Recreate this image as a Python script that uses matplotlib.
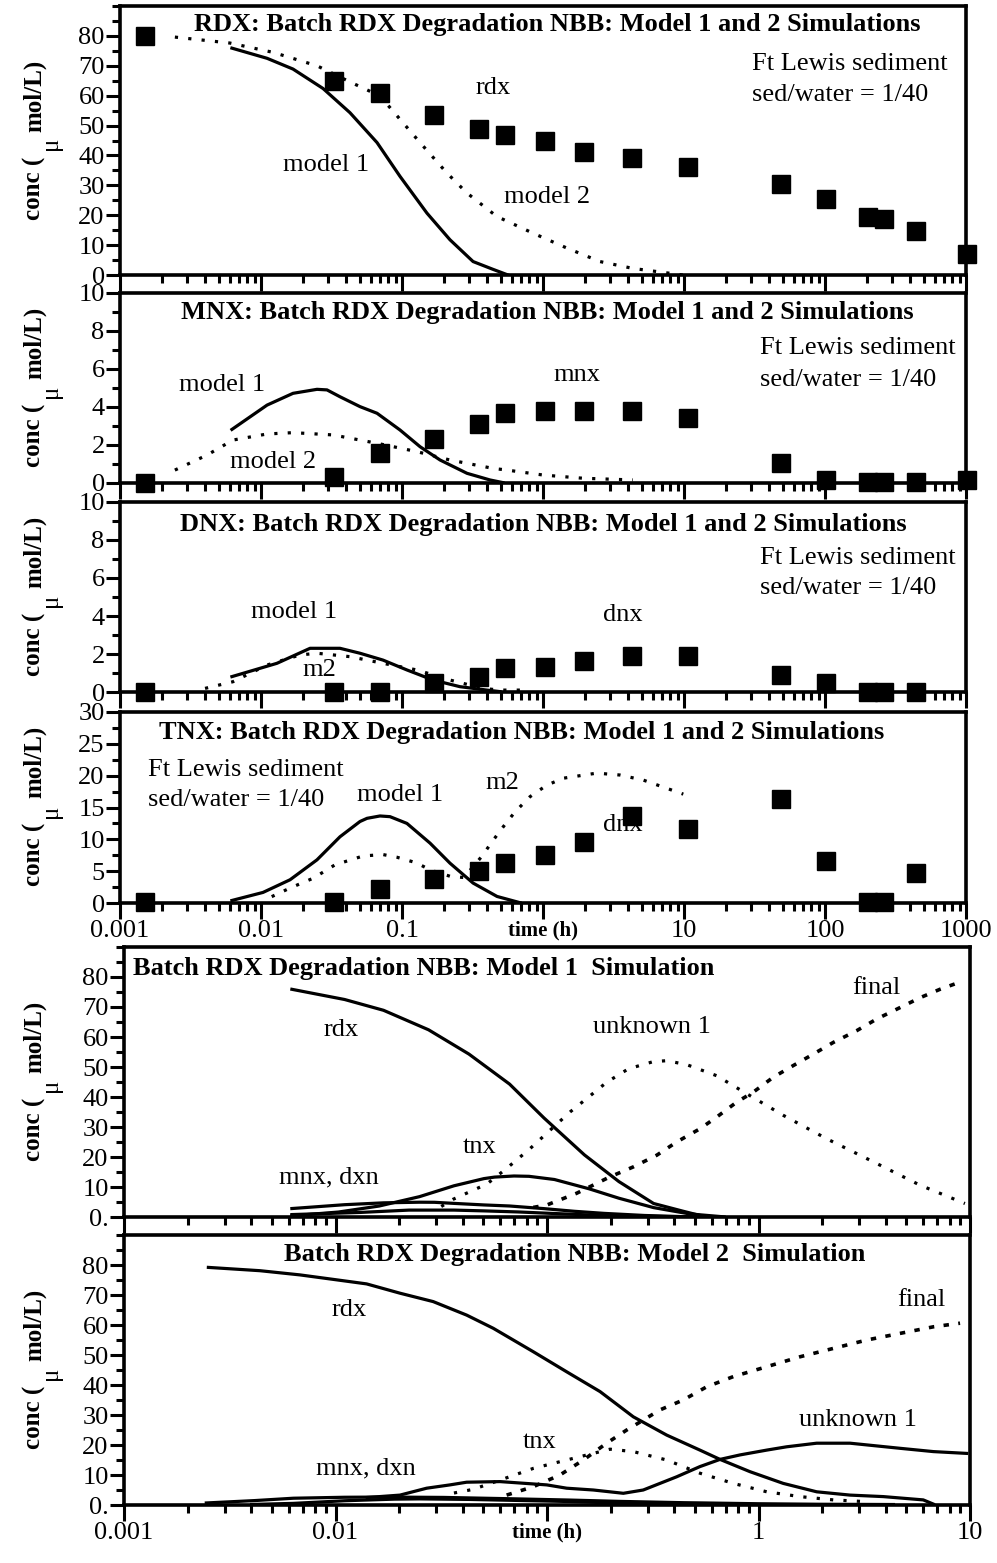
import numpy as np
import matplotlib
matplotlib.use('Agg')
import matplotlib.pyplot as plt
from matplotlib.ticker import MultipleLocator, FixedLocator, LogLocator, NullFormatter

plt.rcParams['font.family'] = ['Liberation Serif', 'DejaVu Serif']

# measured data (time in h, conc in umol/L)
t_obs = [0.0015, 0.033, 0.07, 0.17, 0.35, 0.54, 1.03, 1.95, 4.3, 10.7, 49, 101, 202, 262, 442, 1016]
rdx_obs = [80, 64.9, 60.8, 53.4, 49, 47, 44.7, 41, 39.3, 36.3, 30.3, 25.5, 19.5, 18.8, 14.8, 7]
mnx_obs = [0, 0.3, 1.6, 2.3, 3.1, 3.7, 3.8, 3.8, 3.8, 3.4, 1.05, 0.16, 0.05, 0.05, 0.05, 0.15]
dnx_obs = [0, 0, 0, 0.46, 0.8, 1.26, 1.33, 1.63, 1.9, 1.9, 0.9, 0.45, 0, 0, 0]
tnx_obs = [0.15, 0.15, 2.2, 3.76, 5.06, 6.26, 7.56, 9.65, 13.67, 11.6, 16.3, 6.67, 0.1, 0.1, 4.7]

# model 1 simulation
m1_rdx_t = [0.00622, 0.01104, 0.01687, 0.02754, 0.04276, 0.06653, 0.0968, 0.1503, 0.2188, 0.3192, 0.4416, 0.565]
m1_rdx = [75.9, 72.5, 68.9, 62.4, 54.3, 44.3, 33.0, 20.7, 11.8, 4.5, 1.9, 0]
m1_mnx_t = [0.00622, 0.01104, 0.01687, 0.02495, 0.02938, 0.03631, 0.05035, 0.06653, 0.0968, 0.1343, 0.1862, 0.2891, 0.4207, 0.52]
m1_mnx = [2.82, 4.1, 4.72, 4.93, 4.9, 4.54, 4.02, 3.67, 2.79, 1.91, 1.21, 0.51, 0.16, 0.02]
m1_dnx_t = [0.00622, 0.01297, 0.02228, 0.03631, 0.05035, 0.07328, 0.1084, 0.166, 0.2576, 0.4009, 0.4955]
m1_dnx = [0.81, 1.51, 2.3, 2.3, 2.04, 1.68, 1.16, 0.63, 0.28, 0.1, 0.02]
m1_tnx_t = [0.00622, 0.01033, 0.01607, 0.02495, 0.03631, 0.05035, 0.05649, 0.06982, 0.08222, 0.1084, 0.1581, 0.2188, 0.3192, 0.4721, 0.6871]
m1_tnx = [0.4, 1.66, 3.65, 6.78, 10.4, 12.8, 13.3, 13.67, 13.56, 12.5, 9.4, 6.26, 3.13, 1.03, 0.05]
m1_unk_t = [0.03162, 0.03597, 0.052, 0.06442, 0.08318, 0.1033, 0.1285, 0.1567, 0.1914, 0.2427, 0.3184, 0.3681,
            0.4571, 0.6339, 0.879, 1.309, 2.099, 3.491, 5.808, 9.462]
m1_unk = [3.5, 5.9, 11.0, 16.2, 22.8, 28.9, 35.0, 39.9, 44.9, 49.4, 51.8, 52.1, 50.8, 47.1, 41.1, 33.9, 26.1, 18.4, 10.6, 4.5]
m1_fin_t = [0.0861, 0.0998, 0.138, 0.1986, 0.2559, 0.3304, 0.4102, 0.5284, 0.6339, 0.7889, 0.9441, 1.175, 1.462,
            1.816, 2.259, 2.911, 3.622, 4.667, 5.808, 7.211, 9.29]
m1_fin = [3.2, 4.0, 7.9, 13.4, 16.7, 20.6, 25.0, 29.4, 33.3, 38.3, 41.6, 46.6, 50.5, 54.3, 58.2, 62.1, 66.0, 69.8, 73.1, 75.9, 78.7]

# model 2 simulation
m2_rdx_top_t = [0.00245, 0.00603, 0.01216, 0.02495, 0.04276, 0.06982, 0.0968, 0.1343, 0.2075, 0.2877, 0.4699, 0.849, 1.479, 2.535, 4.345, 9.84]
m2_rdx_top = [79.6, 77.6, 74.5, 70.0, 64.6, 59.9, 52.1, 44.3, 34.2, 27.5, 19.6, 14.0, 9.0, 4.5, 2.2, 0]
m2_mnx_t = [0.00245, 0.00414, 0.00632, 0.01104, 0.01687, 0.03243, 0.06653, 0.1276, 0.2188, 0.4416, 0.5559, 1.0, 1.923, 4.345]
m2_mnx = [0.68, 1.47, 2.26, 2.58, 2.65, 2.53, 2.09, 1.65, 1.21, 0.77, 0.68, 0.42, 0.25, 0.16]
m2_dnx_t = [0.00401, 0.00632, 0.01104, 0.01892, 0.02495, 0.04276, 0.07328, 0.1276, 0.2188, 0.375, 0.4955, 0.809]
m2_dnx = [0.19, 0.54, 1.42, 1.95, 2.04, 1.86, 1.51, 1.16, 0.63, 0.19, 0.1, 0.1]
m2_tnx_top_t = [0.01191, 0.01607, 0.0235, 0.0335, 0.05321, 0.07362, 0.09162, 0.127, 0.1581, 0.2188, 0.275, 0.3673,
                0.4446, 0.5236, 0.6324, 0.8091, 1.062, 1.393, 2.404, 3.516, 5.152, 9.886]
m2_tnx_top = [1.0, 2.35, 3.9, 6.0, 7.4, 7.6, 7.2, 6.3, 5.2, 4.2, 4.0, 7.3, 9.9, 12.0, 14.3, 16.7, 18.5, 19.6, 20.4, 20.1, 19.3, 17.1]
m2_rdx_t = [0.002506, 0.004395, 0.006792, 0.009772, 0.01403, 0.02018, 0.02897, 0.04169, 0.05572, 0.0861, 0.1239,
            0.1782, 0.2559, 0.3681, 0.5284, 0.6577, 0.912, 1.309, 1.884, 2.71, 3.89, 6.012, 6.714]
m2_rdx = [79.2, 78.1, 76.7, 75.2, 73.7, 70.6, 67.8, 63.3, 58.9, 51.1, 44.4, 37.8, 29.4, 23.3, 18.3, 15.2, 11.1, 7.2,
          4.4, 3.3, 2.8, 1.7, 0.3]
m2_tnx_t = [0.03631, 0.04467, 0.05998, 0.0861, 0.1239, 0.1986, 0.2559, 0.3681, 0.5284, 0.7603, 1.094, 1.57, 2.259, 3.251]
m2_tnx = [4.0, 5.2, 8.3, 12.2, 15.0, 18.6, 17.8, 15.0, 10.6, 7.2, 4.4, 2.8, 1.7, 1.1]
m2_unk_t = [0.01413, 0.02018, 0.02698, 0.03475, 0.04169, 0.05998, 0.0998, 0.1239, 0.1656, 0.2296, 0.2851, 0.342,
            0.4102, 0.5284, 0.6577, 0.8185, 1.094, 1.358, 1.884, 2.71, 4.667, 6.714, 9.638]
m2_unk = [2.5, 3.3, 5.6, 6.7, 7.6, 7.8, 6.7, 5.6, 5.0, 3.9, 5.0, 7.2, 9.4, 12.8, 15.2, 16.7, 18.3, 19.4, 20.6, 20.6, 18.9, 17.8, 17.2]
m2_fin_t = [0.06442, 0.0861, 0.1151, 0.1486, 0.1914, 0.2382, 0.2851, 0.342, 0.4406, 0.5689, 0.7603, 1.094, 1.57,
            2.259, 3.251, 4.667, 6.714, 8.974]
m2_fin = [3.3, 6.1, 10.0, 15.0, 20.6, 25.0, 28.3, 31.7, 35.0, 39.4, 42.8, 46.1, 49.4, 52.2, 55.0, 57.2, 59.4, 60.6]

top_ticks = [0.001, 0.01, 0.1, 1, 10, 100, 1000]
top_labels = ['0.001', '0.01', '0.1', 'time (h)', '10', '100', '1000']
bot_ticks = [0.001, 0.01, 0.1, 1, 10]
bot_labels = ['0.001', '0.01', 'time (h)', '1', '10']

W, H = 997, 1563
fig = plt.figure(figsize=(W / 100, H / 100), dpi=100)

SOLID = dict(color='black', lw=2.3, solid_joinstyle='round')
DOT = dict(color='black', lw=2.3, ls=(0, (1, 3.2)))
FIN = dict(color='black', lw=2.6, ls=(0, (1.5, 2.6)))
SQ = dict(ls='none', marker='s', ms=13, color='black', clip_on=False, zorder=5)


def panel(l, t, r, b, xlim, ylim, ymajor, yminor):
    ax = fig.add_axes([l / W, 1 - b / H, (r - l) / W, (b - t) / H])
    ax.set_xscale('log')
    ax.set_xlim(*xlim)
    ax.set_ylim(*ylim)
    for s in ax.spines.values():
        s.set_linewidth(2.6)
    ax.yaxis.set_major_locator(FixedLocator(ymajor))
    ax.yaxis.set_minor_locator(MultipleLocator(yminor))
    ax.xaxis.set_minor_locator(LogLocator(10, subs=np.arange(2, 10), numticks=30))
    ax.xaxis.set_minor_formatter(NullFormatter())
    ax.tick_params(which='both', direction='out', width=2.2, top=False, right=False)
    ax.tick_params(axis='y', which='major', length=10, pad=1, labelsize=19)
    ax.tick_params(axis='y', which='minor', length=6)
    ax.tick_params(axis='x', which='major', length=11.5, pad=1, labelsize=19)
    ax.tick_params(axis='x', which='minor', length=6)
    return ax


def txt(x, y, s, size=19, bold=False, ha='center'):
    fig.text(x / W, 1 - y / H, s, fontsize=size, ha=ha, va='center',
             fontweight='bold' if bold else 'normal', zorder=10)


def xlabels(ax, ticks, labels):
    ax.set_xticks(ticks)
    lbls = ax.set_xticklabels(labels)
    for lb in lbls:
        if lb.get_text() == 'time (h)':
            lb.set_fontweight('bold')
            lb.set_fontsize(15)


def ylabel(yc):
    # "conc (" bold, lowered "μ", "mol/L)" bold, read bottom to top
    kw = dict(rotation=90, rotation_mode='anchor', ha='left', va='baseline', fontsize=18)
    fig.text(41 / W, 1 - (yc + 79) / H, 'conc (', fontweight='bold', **kw)
    fig.text(57 / W, 1 - (yc + 10) / H, 'μ', **kw)
    fig.text(41 / W, 1 - (yc - 9) / H, 'mol/L)', fontweight='bold', **kw)


# ---- top four panels
axes_top = []
boxes = [(6, 275, (0, 90), list(range(0, 81, 10)), 5),
         (293, 483, (0, 10), list(range(0, 11, 2)), 1),
         (502, 692, (0, 10), list(range(0, 11, 2)), 1),
         (712, 903, (0, 30), list(range(0, 31, 5)), 2.5)]
for top, bot, yl, ymaj, ymin in boxes:
    ax = panel(120, top, 966, bot, (0.001, 1000), yl, ymaj, ymin)
    xlabels(ax, top_ticks, top_labels)
    if bot != 903:
        ax.tick_params(axis='x', labelbottom=False)
    ylabel((top + bot) / 2)
    axes_top.append(ax)

a1, a2, a3, a4 = axes_top
a1.plot(m1_rdx_t, m1_rdx, **SOLID)
a1.plot(m2_rdx_top_t, m2_rdx_top, **DOT)
a1.plot(t_obs, rdx_obs, **SQ)
a2.plot(m1_mnx_t, m1_mnx, **SOLID)
a2.plot(m2_mnx_t, m2_mnx, **DOT)
a2.plot(t_obs, mnx_obs, **SQ)
a3.plot(m1_dnx_t, m1_dnx, **SOLID)
a3.plot(m2_dnx_t, m2_dnx, **DOT)
a3.plot(t_obs[:15], dnx_obs, **SQ)
a4.plot(m1_tnx_t, m1_tnx, **SOLID)
a4.plot(m2_tnx_top_t, m2_tnx_top, **DOT)
a4.plot(t_obs[:15], tnx_obs, **SQ)

txt(557, 25, 'RDX: Batch RDX Degradation NBB: Model 1 and 2 Simulations', bold=True)
txt(493, 88, 'rdx')
txt(326, 165, 'model 1')
txt(547, 197, 'model 2')
txt(752, 64, 'Ft Lewis sediment', ha='left')
txt(752, 95, 'sed/water = 1/40', ha='left')

txt(547, 313, 'MNX: Batch RDX Degradation NBB: Model 1 and 2 Simulations', bold=True)
txt(222, 385, 'model 1')
txt(273, 462, 'model 2')
txt(577, 375, 'mnx')
txt(760, 348, 'Ft Lewis sediment', ha='left')
txt(760, 380, 'sed/water = 1/40', ha='left')

txt(543, 525, 'DNX: Batch RDX Degradation NBB: Model 1 and 2 Simulations', bold=True)
txt(294, 612, 'model 1')
txt(319, 670, 'm2')
txt(623, 615, 'dnx')
txt(760, 558, 'Ft Lewis sediment', ha='left')
txt(760, 588, 'sed/water = 1/40', ha='left')

txt(522, 732, 'TNX: Batch RDX Degradation NBB: Model 1 and 2 Simulations', bold=True)
txt(148, 770, 'Ft Lewis sediment', ha='left')
txt(148, 800, 'sed/water = 1/40', ha='left')
txt(400, 795, 'model 1')
txt(502, 783, 'm2')
txt(623, 825, 'dnx')

# ---- bottom two panels
a5 = panel(124, 947, 970, 1217, (0.001, 10), (0, 90), list(range(0, 81, 10)), 5)
a6 = panel(124, 1235, 970, 1505, (0.001, 10), (0, 90), list(range(0, 81, 10)), 5)
for ax, top, bot in [(a5, 947, 1217), (a6, 1235, 1505)]:
    ax.set_yticklabels(['0.'] + [str(v) for v in range(10, 81, 10)])
    xlabels(ax, bot_ticks, bot_labels)
    ylabel((top + bot) / 2)
a5.tick_params(axis='x', labelbottom=False)

a5.plot(m1_rdx_t, m1_rdx, **SOLID)
a5.plot(m1_tnx_t, m1_tnx, **SOLID)
a5.plot(m1_mnx_t, m1_mnx, **SOLID)
a5.plot(m1_dnx_t, m1_dnx, **SOLID)
a5.plot(m1_unk_t, m1_unk, **DOT)
a5.plot(m1_fin_t, m1_fin, **FIN)

a6.plot(m2_rdx_t, m2_rdx, **SOLID)
a6.plot(m2_mnx_t, m2_mnx, **SOLID)
a6.plot(m2_dnx_t, m2_dnx, **SOLID)
a6.plot(m2_unk_t, m2_unk, **SOLID)
a6.plot(m2_tnx_t, m2_tnx, **DOT)
a6.plot(m2_fin_t, m2_fin, **FIN)

txt(133, 968, 'Batch RDX Degradation NBB: Model 1  Simulation', bold=True, ha='left')
txt(341, 1030, 'rdx')
txt(480, 1147, 'tnx')
txt(329, 1177, 'mnx, dxn')
txt(652, 1027, 'unknown 1')
txt(876, 988, 'final')

txt(575, 1255, 'Batch RDX Degradation NBB: Model 2  Simulation', bold=True)
txt(349, 1310, 'rdx')
txt(366, 1468, 'mnx, dxn')
txt(540, 1442, 'tnx')
txt(858, 1420, 'unknown 1')
txt(921, 1300, 'final')

fig.savefig('out.png', dpi=100)
